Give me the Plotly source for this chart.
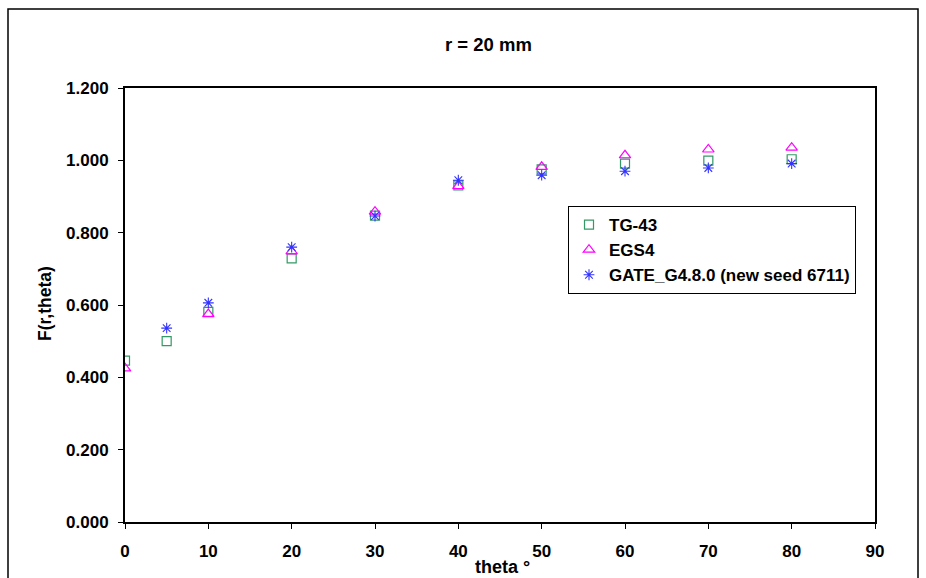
import plotly.graph_objects as go

tg43_x = [0, 5, 10, 20, 30, 40, 50, 60, 70, 80]
tg43_y = [0.446, 0.500, 0.581, 0.729, 0.847, 0.931, 0.975, 0.991, 0.999, 1.003]

egs4_x = [0, 10, 20, 30, 40, 50, 60, 70, 80]
egs4_y = [0.425, 0.575, 0.748, 0.858, 0.929, 0.982, 1.014, 1.030, 1.035]

gate_x = [5, 10, 20, 30, 40, 50, 60, 70, 80]
gate_y = [0.536, 0.606, 0.760, 0.846, 0.945, 0.959, 0.970, 0.979, 0.991]

x_ticks = [0, 10, 20, 30, 40, 50, 60, 70, 80, 90]
y_ticks = [0.0, 0.2, 0.4, 0.6, 0.8, 1.0, 1.2]

FONT = "Arial, Liberation Sans, sans-serif"
BOLD = lambda s: dict(family=FONT, size=s, color="black", weight="bold")

fig = go.Figure()
fig.add_trace(go.Scatter(x=tg43_x, y=tg43_y, mode="markers", name="TG-43",
                         marker=dict(symbol="square-open", size=9, color="#339966",
                                     line=dict(width=1.2, color="#339966"))))
fig.add_trace(go.Scatter(x=egs4_x, y=egs4_y, mode="markers", name="EGS4",
                         marker=dict(symbol="triangle-up-open", size=10, color="#ff00ff",
                                     line=dict(width=1.2, color="#ff00ff"))))
fig.add_trace(go.Scatter(x=gate_x, y=gate_y, mode="markers",
                         name="GATE_G4.8.0 (new seed 6711)",
                         marker=dict(symbol="asterisk-open", size=9, color="#3333ff",
                                     line=dict(width=1.1, color="#3333ff"))))

L, R, T, B = 125, 875, 88, 522
W, H = 926, 578

def px(x):
    return (x - L) / (R - L)

def py(y):
    return (B - y) / (B - T)

fig.update_layout(
    width=W, height=H,
    margin=dict(l=L, r=W - R, t=T, b=H - B, pad=0),
    paper_bgcolor="white", plot_bgcolor="white",
    font=dict(family=FONT, size=17, color="black"),
    showlegend=True,
    legend=dict(x=px(568), y=py(206), xanchor="left", yanchor="top",
                bgcolor="white", bordercolor="black", borderwidth=1,
                font=BOLD(17), tracegroupgap=0, itemwidth=30),
    xaxis=dict(range=[0, 90], tickvals=x_ticks, ticktext=[str(v) for v in x_ticks],
               showgrid=False, zeroline=False, showline=True, linecolor="black",
               linewidth=2, mirror=True, ticks="outside", ticklen=5, tickwidth=1,
               tickcolor="black", ticklabelstandoff=8, tickfont=BOLD(17)),
    yaxis=dict(range=[0, 1.2], tickvals=y_ticks, ticktext=[f"{v:.3f}" for v in y_ticks],
               showgrid=False, zeroline=False, showline=True, linecolor="black",
               linewidth=2, mirror=True, ticks="outside", ticklen=5, tickwidth=1,
               tickcolor="black", ticklabelstandoff=6, tickfont=BOLD(17)),
    shapes=[dict(type="rect", xref="paper", yref="paper",
                 x0=px(8), x1=px(918), y0=py(620), y1=py(9),
                 line=dict(color="black", width=1.5), layer="below")],
    annotations=[
        dict(text="r = 20 mm", xref="paper", yref="paper", x=px(488), y=py(45),
             xanchor="center", yanchor="middle", showarrow=False, font=BOLD(18.5)),
        dict(text="F(r,theta)", xref="paper", yref="paper", x=px(45), y=py(304),
             xanchor="center", yanchor="middle", showarrow=False, textangle=-90,
             font=BOLD(17.5)),
        dict(text="theta °", xref="paper", yref="paper", x=px(502), y=py(567),
             xanchor="center", yanchor="middle", showarrow=False, font=BOLD(18)),
    ],
)

fig.write_html("out.html")
